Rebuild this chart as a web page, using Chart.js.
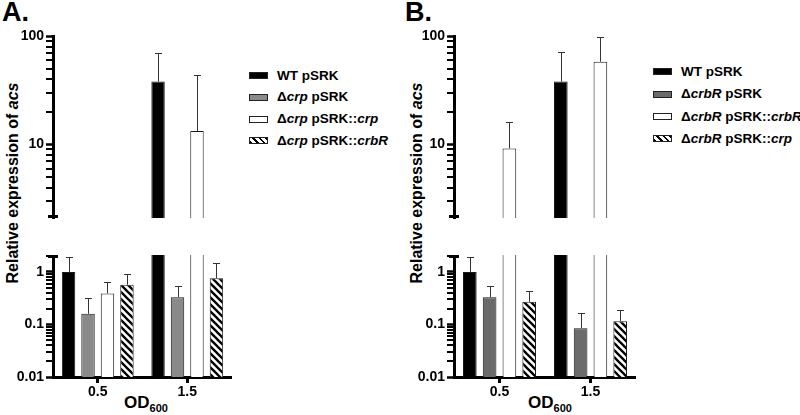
<!DOCTYPE html>
<html>
<head>
<meta charset="utf-8">
<script src="https://cdn.jsdelivr.net/npm/chart.js@4.4.0/dist/chart.umd.min.js"></script>
<style>
  body { margin: 0; background: #fff; }
  #page { position: relative; width: 800px; height: 415px; overflow: hidden;
          font-family: 'Liberation Sans', Arial, sans-serif; font-weight: bold; color: #000; }
  canvas { position: absolute; }
  .tag { position: absolute; font-size: 27px; line-height: 27px; }
  .ytitle { position: absolute; font-size: 16px; white-space: nowrap;
            transform: translate(-50%, -50%) rotate(-90deg); }
  .xtitle { position: absolute; font-size: 17px; line-height: 17px; white-space: nowrap;
            transform: translateX(-50%); }
  .xtitle sub { font-size: 11px; vertical-align: -4px; line-height: 0; }
  .row { position: absolute; white-space: nowrap; font-size: 13.5px; height: 22px; line-height: 22px; }
  .sw { position: absolute; width: 19px; height: 7px; border: 1px solid #222; box-sizing: border-box; }
</style>
</head>
<body>
<div id="page">
  <div class="tag" style="left:2px; top:-1px">A.</div>
  <div class="tag" style="left:405px; top:-1px">B.</div>
  <div class="ytitle" style="left:13px; top:183px">Relative expression of <i>acs</i></div>
  <div class="ytitle" style="left:417px; top:183px">Relative expression of <i>acs</i></div>
  <div class="xtitle" style="left:146px; top:394px">OD<sub>600</sub></div>
  <div class="xtitle" style="left:550px; top:394px">OD<sub>600</sub></div>
</div>
<script>
// ── Data ──
const categories = ['0.5', '1.5'];

const namesA  = ['WT pSRK', 'Δ<i>crp</i> pSRK', 'Δ<i>crp</i> pSRK::<i>crp</i>', 'Δ<i>crp</i> pSRK::<i>crbR</i>'];
const valuesA = [[1.0, 38], [0.16, 0.33], [0.39, 13.3], [0.57, 0.76]];
const errorsA = [[1.95, 70], [0.32, 0.53], [0.63, 43.5], [0.9, 1.45]];

const namesB  = ['WT pSRK', 'Δ<i>crbR</i> pSRK', 'Δ<i>crbR</i> pSRK::<i>crbR</i>', 'Δ<i>crbR</i> pSRK::<i>crp</i>'];
const valuesB = [[1.0, 38], [0.33, 0.085], [9.2, 58], [0.27, 0.115]];
const errorsB = [[1.9, 71], [0.55, 0.165], [16, 98], [0.43, 0.19]];

// axis segments (broken log axis)
const lowerLabels = [0.01, 0.1, 1];
const upperLabels = [10, 100];
const lowerRange  = [0.01, 2.1];
const upperRange  = [2.1, 100];

const FONT = "'Liberation Sans', Arial, sans-serif";

// ── Hatch fill ──
function hatch() {
  const c = document.createElement('canvas');
  c.width = c.height = 7;
  const g = c.getContext('2d');
  g.fillStyle = '#fff';
  g.fillRect(0, 0, 7, 7);
  g.strokeStyle = '#000';
  g.lineWidth = 2.3;
  g.beginPath();
  g.moveTo(-1, -1); g.lineTo(8, 8);
  g.moveTo(-1, 6);  g.lineTo(1, 8);
  g.moveTo(6, -1);  g.lineTo(8, 1);
  g.stroke();
  return g.createPattern(c, 'repeat');
}
const HATCH = hatch();
const HATCH_CSS = 'repeating-linear-gradient(45deg, #000 0 2px, #fff 2px 4.6px)';

// minor log tick positions (k x 10^n) strictly inside a segment
function minorTicks(min, max, major) {
  const out = [];
  for (let e = -3; e <= 3; e++) {
    for (let k = 1; k <= 9; k++) {
      const v = +(k * Math.pow(10, e)).toPrecision(3);
      if (v > min && v < max * 0.96 && !major.includes(v)) out.push(v);
    }
  }
  return out;
}

// ── Plugin: minor ticks, break cap, error bars ──
function extras(edge, minor) {
  return {
    id: 'extras',
    afterDraw(chart) {
      const ctx = chart.ctx;
      const a = chart.chartArea;
      const y = chart.scales.y;
      const ax = Math.round(a.left);

      ctx.save();
      ctx.fillStyle = '#000';
      for (const v of minor) {
        const py = Math.round(y.getPixelForValue(v));
        ctx.fillRect(ax - 7, py - 1, 8, 2);
      }
      const yy = edge === 'top' ? a.top : a.bottom - 3;
      ctx.fillRect(ax - 5, yy, 10, 3);

      ctx.strokeStyle = '#333';
      ctx.lineWidth = 1;
      chart.data.datasets.forEach((ds, i) => {
        chart.getDatasetMeta(i).data.forEach((bar, j) => {
          const v = ds.data[j];
          if (v < y.min || v > y.max) return;
          const top = Math.round(y.getPixelForValue(ds.err[j])) + 0.5;
          const x = Math.round(bar.x) + 0.5;
          ctx.beginPath();
          ctx.moveTo(x, bar.y);
          ctx.lineTo(x, top);
          ctx.moveTo(x - 3.5, top);
          ctx.lineTo(x + 3.5, top);
          ctx.stroke();
        });
      });
      ctx.restore();
    }
  };
}

// ── Chart builder ──
// each axis segment is its own canvas; the canvas edge cuts the bars at the break
function buildSegment(p, seg) {
  const upper = seg === 'upper';
  const canvas = document.createElement('canvas');
  const top = upper ? 26 : 255;
  const h = upper ? 215 : 145;
  const w = p.right - p.left;
  canvas.width = w; canvas.height = h;
  canvas.style.left = p.left + 'px';
  canvas.style.top = top + 'px';
  canvas.style.width = w + 'px';
  canvas.style.height = h + 'px';
  document.getElementById('page').appendChild(canvas);

  const range = upper ? upperRange : lowerRange;
  const labelled = upper ? upperLabels : lowerLabels;
  const minor = minorTicks(range[0], range[1], labelled);

  return new Chart(canvas.getContext('2d'), {
    type: 'bar',
    data: {
      labels: categories,
      datasets: p.values.map((v, i) => ({
        label: p.names[i].replace(/<[^>]+>/g, ''),
        data: v,
        err: p.errors[i],
        backgroundColor: p.fills[i],
        borderColor: '#1a1a1a',
        borderWidth: 1,
        borderSkipped: 'start',
        barPercentage: 0.69,
        categoryPercentage: 0.87,
      })),
    },
    options: {
      responsive: false,
      animation: false,
      events: [],
      layout: { padding: { top: upper ? 10 : 0, left: 0, right: 0, bottom: 0 } },
      plugins: {
        legend: { display: false },
        tooltip: { enabled: false },
      },
      scales: {
        x: {
          display: !upper,
          offset: true,
          grid: { offset: false, drawOnChartArea: false, tickLength: 6, tickWidth: 3, tickColor: '#000' },
          border: { width: 3, color: '#000' },
          ticks: { color: '#000', padding: 1, font: { family: FONT, size: 14, weight: 'bold' } },
          afterFit: s => { s.height = 23; s.paddingLeft = 0; s.paddingRight = 0; },
        },
        y: {
          type: 'logarithmic',
          min: range[0],
          max: range[1],
          afterBuildTicks: s => { s.ticks = labelled.map(v => ({ value: v })); },
          afterFit: s => { s.width = p.axis - p.left; s.paddingTop = 0; s.paddingBottom = 0; },
          grid: { drawOnChartArea: false, tickLength: 7, tickWidth: 2.5, tickColor: '#000' },
          border: { width: 3, color: '#000' },
          ticks: {
            autoSkip: false, color: '#000', padding: 2,
            font: { family: FONT, size: 14, weight: 'bold' },
            callback: v => String(v),
          },
        },
      },
    },
    plugins: [extras(upper ? 'bottom' : 'top', minor)],
  });
}

function buildLegend(p) {
  const page = document.getElementById('page');
  p.names.forEach((name, i) => {
    const cy = p.legTop + i * p.legGap;
    const sw = document.createElement('div');
    sw.className = 'sw';
    sw.style.left = p.legLeft + 'px';
    sw.style.top = (cy - 3.5) + 'px';
    sw.style.background = p.swatch[i];
    page.appendChild(sw);
    const row = document.createElement('div');
    row.className = 'row';
    row.style.left = (p.legLeft + 28) + 'px';
    row.style.top = (cy - 11) + 'px';
    row.innerHTML = name;
    page.appendChild(row);
  });
}

const panels = [
  { left: 0, axis: 53, right: 232, names: namesA, values: valuesA, errors: errorsA,
    fills: ['#000', '#8a8a8a', '#fff', HATCH], swatch: ['#000', '#8a8a8a', '#fff', HATCH_CSS],
    legLeft: 249, legTop: 75.7, legGap: 21.7 },
  { left: 400, axis: 454, right: 636, names: namesB, values: valuesB, errors: errorsB,
    fills: ['#000', '#6b6b6b', '#fff', HATCH], swatch: ['#000', '#6b6b6b', '#fff', HATCH_CSS],
    legLeft: 653, legTop: 71.7, legGap: 22.4 },
];

panels.forEach(p => {
  buildSegment(p, 'upper');
  buildSegment(p, 'lower');
  buildLegend(p);
});
</script>
</body>
</html>
